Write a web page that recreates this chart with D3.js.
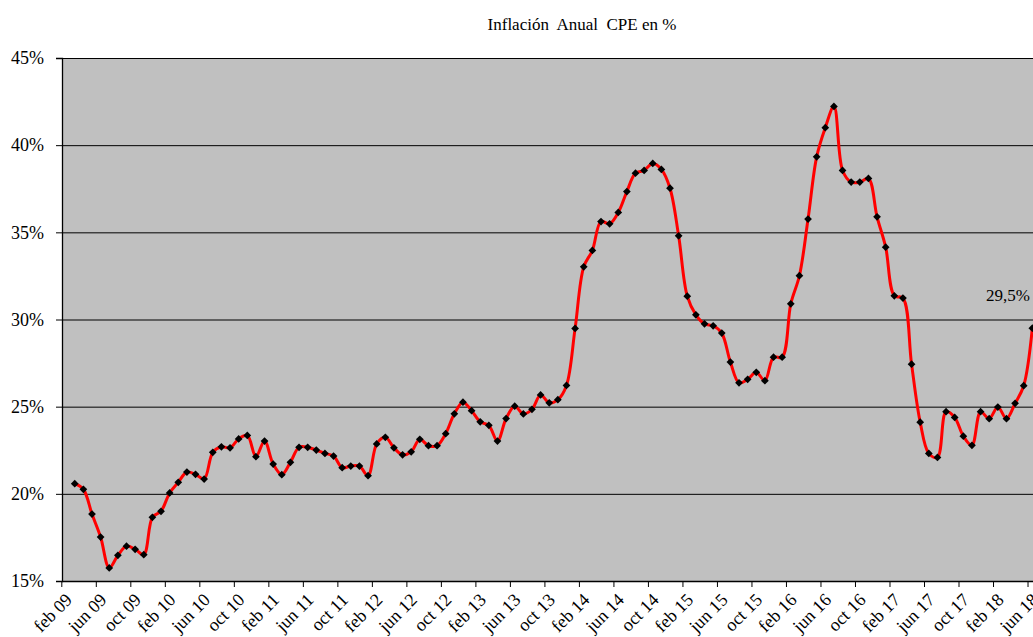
<!DOCTYPE html>
<html>
<head>
<meta charset="utf-8">
<script src="https://cdn.jsdelivr.net/npm/d3@7"></script>
<style>
body { margin: 0; background: #fff; }
</style>
</head>
<body>
<div id="chart"></div>
<script>
// month categories, feb 09 .. jun 18
var monthNames = ["ene", "feb", "mar", "abr", "may", "jun", "jul", "ago", "sep", "oct", "nov", "dic"];
var categories = [];
for (var yr = 2009; yr <= 2018; yr++) {
    for (var m = 0; m < 12; m++) {
        if (yr == 2009 && m < 1) continue;
        if (yr == 2018 && m > 5) break;
        categories.push(monthNames[m] + " " + String(yr).slice(2));
    }
}

// annual inflation in %, one per month (feb 09 has no value)
var inflation = [
    null, 20.58, 20.26, 18.84, 17.52, 15.75, 16.47, 17.0, 16.82, 16.51, 18.65,
    19.0, 20.05, 20.66, 21.25, 21.12, 20.85, 22.38, 22.7, 22.64, 23.15, 23.35,
    22.13, 23.03, 21.71, 21.1, 21.81, 22.67, 22.67, 22.51, 22.32, 22.17,
    21.5, 21.59, 21.59, 21.04, 22.86, 23.24, 22.64, 22.24, 22.41, 23.13,
    22.76, 22.76, 23.45, 24.59, 25.26, 24.77, 24.13, 23.93, 23.03, 24.32,
    25.03, 24.58, 24.85, 25.67, 25.22, 25.4, 26.22, 29.49, 33.02, 33.96,
    35.62, 35.49, 36.14, 37.34, 38.39, 38.55, 38.95, 38.61, 37.53, 34.8,
    31.34, 30.27, 29.75, 29.64, 29.22, 27.56, 26.37, 26.57, 26.97, 26.49,
    27.84, 27.84, 30.9, 32.51, 35.76, 39.33, 41.0, 42.22, 38.55, 37.88,
    37.88, 38.09, 35.89, 34.15, 31.36, 31.23, 27.44, 24.11, 22.32, 22.09,
    24.71, 24.38, 23.31, 22.78, 24.71, 24.31, 24.98, 24.31, 25.19, 26.2, 29.5
];

var yTicks = [15, 20, 25, 30, 35, 40, 45];
var lastLabel = "29,5%";
var title = "Inflación  Anual  CPE en %";

var font = "'Liberation Serif', 'DejaVu Serif', serif";
var width = 1033, height = 637;
var plotLeft = 62, plotTop = 58, plotBottom = 581;
var band = 8.627;

var svg = d3.select("#chart")
    .append("svg")
    .attr("width", width)
    .attr("height", height)

var x = d3.scaleBand()
    .domain(categories)
    .range([61.8, 61.8 + categories.length * band]);

var y = d3.scaleLinear()
    .domain([15, 45])
    .range([plotBottom, plotTop]);

// plot background
svg.append("rect")
    .attr("x", plotLeft)
    .attr("y", plotTop)
    .attr("width", width - plotLeft)
    .attr("height", plotBottom - plotTop)
    .style("fill", "#c0c0c0")

// y axis with gridlines
var yAxis = svg.append("g")
    .attr("transform", "translate(" + plotLeft + ",0)")
    .call(d3.axisLeft(y).tickValues(yTicks).tickSize(6).tickPadding(12).tickFormat(function (d) { return d + "%"; }))
yAxis.attr("font-family", null)
yAxis.select(".domain").attr("stroke", "#000").attr("stroke-width", 1.3)
yAxis.selectAll("text").style("font-size", "18px").style("font-family", font).style("fill", "#000")
yAxis.selectAll(".tick").append("line")
    .attr("x2", width - plotLeft)
    .attr("stroke", "#000")

// x axis: labels at month centers, ticks on month boundaries every 4 months
var shown = categories.filter(function (d, i) { return i % 4 == 0; });
var xAxis = svg.append("g")
    .attr("transform", "translate(0," + plotBottom + ")")
    .call(d3.axisBottom(x).tickValues(shown).tickSize(6).tickSizeOuter(0))
xAxis.attr("font-family", null)
xAxis.select(".domain").attr("stroke", "#000").attr("stroke-width", 1.3)
xAxis.selectAll(".tick line")
    .attr("transform", "translate(" + (-x.bandwidth() / 2) + ",0)")
xAxis.selectAll(".tick text")
    .attr("x", null).attr("y", null).attr("dy", null)
    .attr("text-anchor", "end")
    .attr("transform", "translate(7,20) rotate(-45)")
    .style("font-size", "18px")
    .style("font-family", font)
    .style("fill", "#000")

// smoothed line
var line = d3.line()
    .defined(function (d) { return d != null; })
    .x(function (d, i) { return x(categories[i]) + x.bandwidth() / 2; })
    .y(function (d) { return y(d); })
    .curve(d3.curveCatmullRom.alpha(0.5));

svg.append("path")
    .datum(inflation)
    .attr("d", line)
    .style("fill", "none")
    .style("stroke", "#ff0000")
    .style("stroke-width", 3)

// diamond markers
var points = inflation.map(function (v, i) { return { cat: categories[i], value: v }; })
    .filter(function (d) { return d.value != null; });

svg.append("g")
    .selectAll("path")
    .data(points)
    .enter()
    .append("path")
    .attr("d", d3.symbol().type(d3.symbolSquare).size(30))
    .attr("transform", function (d) {
        return "translate(" + (x(d.cat) + x.bandwidth() / 2) + "," + y(d.value) + ") rotate(45)";
    })
    .style("fill", "#000")

// last value label
svg.append("text")
    .attr("x", 1030)
    .attr("y", 301)
    .attr("text-anchor", "end")
    .style("font-size", "17px")
    .style("font-family", font)
    .text(lastLabel)

// title
svg.append("text")
    .attr("x", 582)
    .attr("y", 30)
    .attr("text-anchor", "middle")
    .style("font-size", "17px")
    .style("font-family", font)
    .style("white-space", "pre")
    .text(title)
</script>
</body>
</html>
